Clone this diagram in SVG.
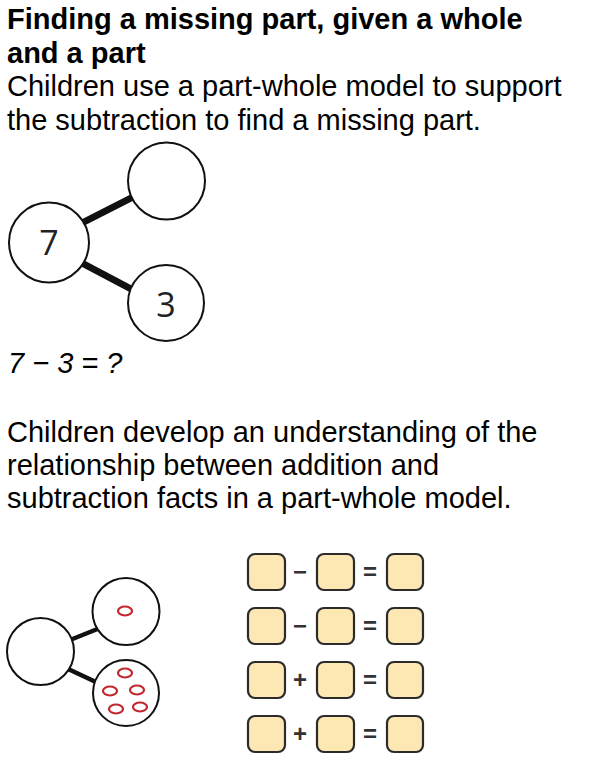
<svg xmlns="http://www.w3.org/2000/svg" width="593" height="764" viewBox="0 0 593 764">
<style>
.t{font-family:"Liberation Sans",Arial,sans-serif;font-size:29px;fill:#000}
.b{font-weight:bold}
.i{font-style:italic}
.c{fill:#fff;stroke:#111;stroke-width:2}
.num{font-family:"Open Sans","Noto Sans",sans-serif;font-size:34px;fill:#222;text-anchor:middle}
.con1{stroke:#111;stroke-width:7;stroke-linecap:butt}
.con2{stroke:#111;stroke-width:4.5;stroke-linecap:butt}
.ov{fill:none;stroke:#c1272d;stroke-width:2.2}
.box{fill:#fde8b3;stroke:#2b2b2b;stroke-width:2.2}
.sg{font-family:"Liberation Sans",Arial,sans-serif;font-size:24px;font-weight:bold;fill:#333;text-anchor:middle}
</style>
<rect width="593" height="764" fill="#fff"/>
<g id="heading">
<text class="t b" x="7" y="29">Finding a missing part, given a whole</text>
<text class="t b" x="7" y="62.5">and a part</text>
</g>
<g id="para1">
<text class="t" x="7" y="96">Children use a part-whole model to support</text>
<text class="t" x="7" y="129.5">the subtraction to find a missing part.</text>
</g>
<g id="connectors">
<line class="con1" x1="80" y1="224" x2="133" y2="197"/>
<line class="con1" x1="80" y1="262" x2="133" y2="290"/>
<line class="con2" x1="70" y1="640" x2="100" y2="628"/>
<line class="con2" x1="66" y1="668" x2="98" y2="683"/>
</g>
<g id="whole7">
<circle class="c" cx="49" cy="242.5" r="40"/>
<text class="num" x="49" y="255">7</text>
</g>
<g id="partEmpty">
<circle class="c" cx="166.5" cy="181" r="38.5"/>
</g>
<g id="part3">
<circle class="c" cx="166" cy="303" r="38"/>
<text class="num" x="166" y="317">3</text>
</g>
<g id="equation1">
<text class="t i" x="8" y="373">7 − 3 = ?</text>
</g>
<g id="para2">
<text class="t" x="7" y="442">Children develop an understanding of the</text>
<text class="t" x="7" y="475">relationship between addition and</text>
<text class="t" x="7" y="508">subtraction facts in a part-whole model.</text>
</g>
<g id="wholeEmpty">
<circle class="c" cx="40.5" cy="651.5" r="33.5"/>
</g>
<g id="partOne">
<circle class="c" cx="126" cy="611.5" r="33.5"/>
<ellipse class="ov" cx="125" cy="611" rx="7" ry="4.5"/>
</g>
<g id="partFive">
<circle class="c" cx="126" cy="693" r="33"/>
<ellipse class="ov" cx="125" cy="673" rx="7" ry="4.5"/>
<ellipse class="ov" cx="110" cy="691" rx="7" ry="4.5"/>
<ellipse class="ov" cx="137" cy="690" rx="7" ry="4.5"/>
<ellipse class="ov" cx="116" cy="709" rx="7" ry="4.5"/>
<ellipse class="ov" cx="140" cy="707" rx="7" ry="4.5"/>
</g>
<g id="facts">
<g id="fact1">
<rect class="box" x="248" y="554" width="37" height="36" rx="7"/>
<text class="sg" x="300" y="580">−</text>
<rect class="box" x="317" y="554" width="37" height="36" rx="7"/>
<text class="sg" x="370" y="580">=</text>
<rect class="box" x="387" y="554" width="36" height="36" rx="7"/>
</g>
<g id="fact2">
<rect class="box" x="248" y="608" width="37" height="36" rx="7"/>
<text class="sg" x="300" y="634">−</text>
<rect class="box" x="317" y="608" width="37" height="36" rx="7"/>
<text class="sg" x="370" y="634">=</text>
<rect class="box" x="387" y="608" width="36" height="36" rx="7"/>
</g>
<g id="fact3">
<rect class="box" x="248" y="662" width="37" height="36" rx="7"/>
<text class="sg" x="300" y="688">+</text>
<rect class="box" x="317" y="662" width="37" height="36" rx="7"/>
<text class="sg" x="370" y="688">=</text>
<rect class="box" x="387" y="662" width="36" height="36" rx="7"/>
</g>
<g id="fact4">
<rect class="box" x="248" y="716" width="37" height="36" rx="7"/>
<text class="sg" x="300" y="742">+</text>
<rect class="box" x="317" y="716" width="37" height="36" rx="7"/>
<text class="sg" x="370" y="742">=</text>
<rect class="box" x="387" y="716" width="36" height="36" rx="7"/>
</g>
</g>
</svg>
